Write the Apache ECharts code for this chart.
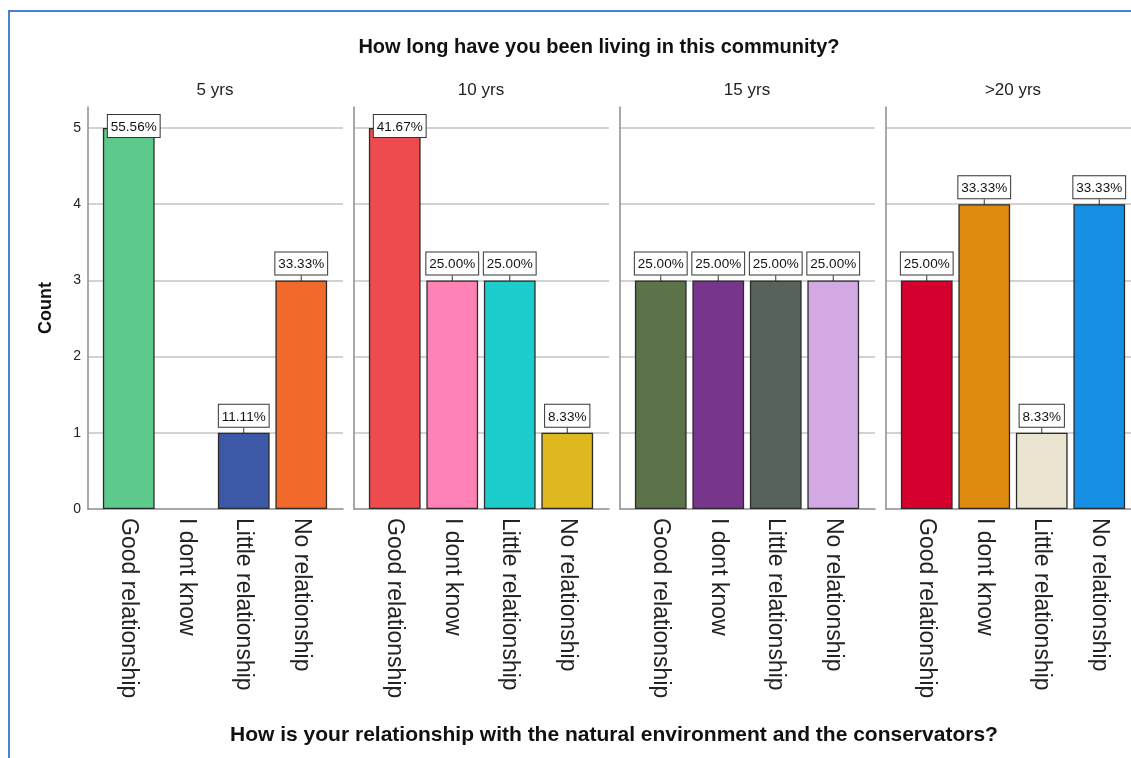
<!DOCTYPE html>
<html>
<head>
<meta charset="utf-8">
<script src="https://cdn.jsdelivr.net/npm/echarts@6/dist/echarts.min.js"></script>
<style>
  html, body { margin: 0; padding: 0; background: #fff; overflow: hidden; }
  #chart { position: absolute; left: 0; top: 0; width: 1131px; height: 758px; }
  #frame { position: absolute; left: 8px; top: 10px; width: 1140px; height: 760px;
           border-left: 2px solid #4a7fd7; border-top: 2px solid #4a7fd7; pointer-events: none; }
</style>
</head>
<body>
<div id="chart"></div>
<div id="frame"></div>
<script>
// Texts
const chartTitle = 'How long have you been living in this community?';
const xTitle = 'How is your relationship with the natural environment and the conservators?';
const yTitle = 'Count';

// Panels (one per residence period) and the answer categories
const panels = ['5 yrs', '10 yrs', '15 yrs', '>20 yrs'];
const categories = ['Good relationship', 'I dont know', 'Little relationship', 'No relationship'];

// Counts per answer, one array per panel
const counts5 = [5, 0, 1, 3];
const counts10 = [5, 3, 3, 1];
const counts15 = [3, 3, 3, 3];
const counts20 = [3, 4, 1, 4];

// Y axis tick labels
const yTicks = [0, 1, 2, 3, 4, 5];

// Bar colours per panel
const colors5 = ['#5dc98b', '#7f7f7f', '#3c58a6', '#f2692c'];
const colors10 = ['#ee4b4e', '#ff82b6', '#1dcdce', '#dfb820'];
const colors15 = ['#5c7249', '#77358b', '#57625a', '#d2a9e3'];
const colors20 = ['#d6002f', '#df8a10', '#eae4d1', '#1590e5'];

const panelCounts = [counts5, counts10, counts15, counts20];
const panelColors = [colors5, colors10, colors15, colors20];

// Layout
const PANEL_LEFT = 88, PANEL_STEP = 266, PANEL_W = 255;
const BAND_PAD = 12, BAND_W = 230;
const GRID_TOP = 107, GRID_H = 402;
const Y_MAX = 5.276;
const FONT = '"Liberation Sans", Arial, sans-serif';
const AXIS_GREY = '#8c8c8c';

const grids = [], xAxes = [], yAxes = [], series = [];

// Frame grids: axis lines and gridlines spanning the whole panel
panels.forEach((p, i) => {
  grids.push({ left: PANEL_LEFT + i * PANEL_STEP, top: GRID_TOP, width: PANEL_W, height: GRID_H });
  xAxes.push({
    gridIndex: i, type: 'category', data: [''],
    axisLine: { show: true, lineStyle: { color: AXIS_GREY, width: 1.5 } },
    axisTick: { show: false }, axisLabel: { show: false }, splitLine: { show: false }
  });
  yAxes.push({
    gridIndex: i, type: 'value', min: yTicks[0], max: Y_MAX, interval: yTicks[1] - yTicks[0],
    name: i === 0 ? yTitle : '',
    nameLocation: 'middle', nameRotate: 90, nameGap: 33,
    nameTextStyle: { fontFamily: FONT, fontSize: 18, fontWeight: 'bold', color: '#111' },
    axisLine: { show: true, lineStyle: { color: AXIS_GREY, width: 1.5 } },
    axisTick: { show: false },
    axisLabel: {
      show: i === 0, showMaxLabel: false, margin: 7,
      fontFamily: FONT, fontSize: 14, color: '#222'
    },
    splitLine: { show: true, showMaxLine: false, showMinLine: false,
                 lineStyle: { color: '#d2d2d2', width: 2 } }
  });
});

// Bar grids: category bands inset from the panel edges
panels.forEach((p, i) => {
  const gi = panels.length + i;
  grids.push({ left: PANEL_LEFT + i * PANEL_STEP + BAND_PAD, top: GRID_TOP, width: BAND_W, height: GRID_H });
  xAxes.push({
    gridIndex: gi, type: 'category', data: categories,
    axisLine: { show: false }, axisTick: { show: false },
    axisLabel: {
      rotate: -90, margin: 9, interval: 0,
      fontFamily: FONT, fontSize: 23, color: '#222'
    }
  });
  yAxes.push({
    gridIndex: gi, type: 'value', min: yTicks[0], max: Y_MAX,
    axisLine: { show: false }, axisTick: { show: false },
    axisLabel: { show: false }, splitLine: { show: false }
  });

  const vals = panelCounts[i];
  const total = vals.reduce((a, b) => a + b, 0);
  series.push({
    type: 'bar', xAxisIndex: gi, yAxisIndex: gi,
    barCategoryGap: '10%',
    data: vals.map((v, k) => ({
      value: v,
      itemStyle: { color: panelColors[i][k], borderColor: '#2b2b2b', borderWidth: v > 0 ? 1.3 : 0 },
      label: { show: v > 0 }
    })),
    label: {
      position: 'top', distance: 0,
      formatter: (prm) => (prm.value / total * 100).toFixed(2) + '%',
      fontFamily: FONT, fontSize: 13.5, color: '#111',
      backgroundColor: '#fff', borderColor: '#333', borderWidth: 1,
      padding: [5, 3, 3, 3]
    },
    labelLine: { show: true, lineStyle: { color: '#333', width: 1 } },
    labelLayout: (prm) => {
      // keep the tallest bars' tags inside the plot area
      if (prm.labelRect.y < GRID_TOP + 2) return { dx: 5, dy: 9 };
      return { dy: -6 };
    }
  });
});

// Titles and panel headers
const graphics = [
  { type: 'text', x: 599, y: 47,
    style: { text: chartTitle, font: 'bold 20px ' + FONT, fill: '#111',
             textAlign: 'center', textVerticalAlign: 'middle', align: 'center', verticalAlign: 'middle' } },
  { type: 'text', x: 614, y: 735,
    style: { text: xTitle, font: 'bold 21px ' + FONT, fill: '#111',
             textAlign: 'center', textVerticalAlign: 'middle', align: 'center', verticalAlign: 'middle' } }
];
panels.forEach((p, i) => {
  graphics.push({
    type: 'text', x: PANEL_LEFT + i * PANEL_STEP + 127, y: 90,
    style: { text: p, font: '17px ' + FONT, fill: '#222',
             textAlign: 'center', textVerticalAlign: 'middle', align: 'center', verticalAlign: 'middle' }
  });
});

const chart = echarts.init(document.getElementById('chart'), null, { renderer: 'canvas' });
chart.setOption({
  backgroundColor: '#fff',
  animation: false,
  grid: grids,
  xAxis: xAxes,
  yAxis: yAxes,
  series: series,
  graphic: graphics
});
</script>
</body>
</html>
